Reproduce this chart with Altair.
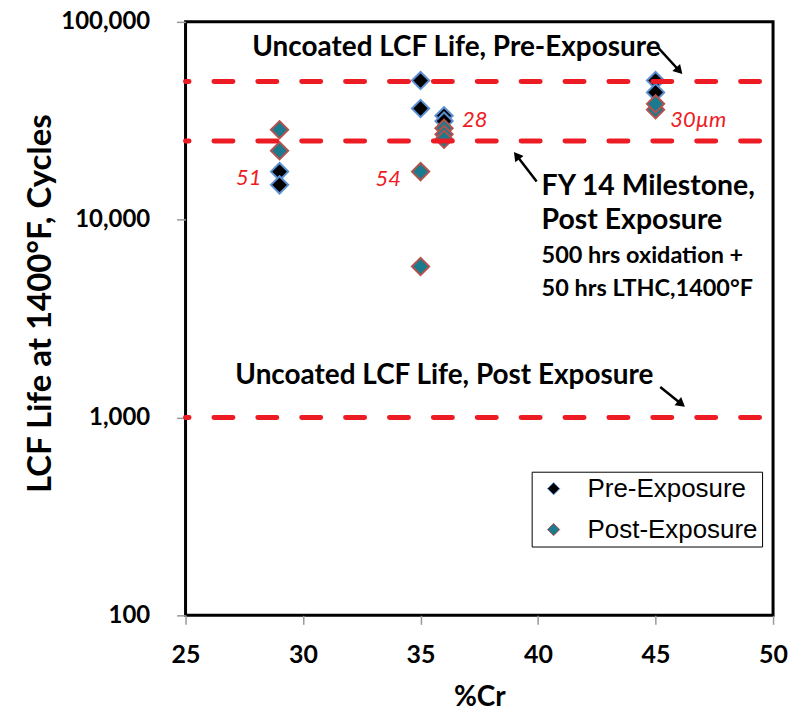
import altair as alt
import pandas as pd

# ---- data ----
pre_x = [29, 29, 35, 35, 36, 36, 45, 45]
pre_y = [17500, 15000, 50500, 36500, 33500, 31500, 50500, 44000]
post_x = [29, 29, 35, 35, 36, 36, 36, 45, 45]
post_y = [28500, 22300, 17500, 5800, 29000, 27000, 25500, 36000, 38500]

ref_lines = [50000, 25000, 1000]

label_text = ["51", "54", "28", "30\u00b5m"]
label_x = [28.23, 34.17, 36.76, 45.63]
label_y = [16250, 16060, 32040, 31860]
label_align = ["right", "right", "left", "left"]

note_text = ["Uncoated LCF Life, Pre-Exposure", "Uncoated LCF Life, Post Exposure",
             "FY 14 Milestone,", "Post Exposure",
             "500 hrs oxidation +", "50 hrs LTHC,1400\u00b0F"]
note_x = [27.84, 27.12, 40.15, 40.15, 40.15, 40.15]
note_y = [73900, 1621, 14720, 9920, 6530, 4455]
note_size = [28, 28, 28.5, 28.5, 23.5, 23.5]

arrow_x = [45.08, 45.20, 39.94]
arrow_y = [74800, 1427, 15600]
arrow_x2 = [46.01, 46.10, 39.09]
arrow_y2 = [56600, 1171, 21100]
arrow_angle = [137.5, 129, 322.4]

series_names = ["Pre-Exposure", "Post-Exposure"]
fill_colors = ["#000000", "#1b7a8e"]
stroke_colors = ["#5b8fd3", "#b4524d"]

RED = "#ed1c24"
FONT = "Lato"

pts = pd.DataFrame({
    "cr": pre_x + post_x,
    "life": pre_y + post_y,
    "series": ["Pre-Exposure"] * len(pre_x) + ["Post-Exposure"] * len(post_x),
    "idx": list(range(len(pre_x) + len(post_x))),
})
lines_df = pd.DataFrame({"life": ref_lines})
labels_df = pd.DataFrame({"t": label_text, "x": label_x, "y": label_y, "a": label_align})
notes_df = pd.DataFrame({"t": note_text, "x": note_x, "y": note_y, "fs": note_size})
arrows_df = pd.DataFrame({"x": arrow_x, "y": arrow_y, "x2": arrow_x2, "y2": arrow_y2, "ang": arrow_angle})

xscale = alt.Scale(domain=[25, 50], nice=False, zero=False)
yscale = alt.Scale(type="log", domain=[100, 100000], nice=False)

xaxis = alt.Axis(values=[25, 30, 35, 40, 45, 50], title="%Cr", grid=False, domain=False,
                 tickColor="#999999", tickSize=9, tickWidth=1.5,
                 labelFont=FONT, labelFontSize=25, labelFontWeight="bold", labelColor="#000",
                 labelPadding=18, labelFlush=False,
                 titleFont=FONT, titleFontSize=28, titleFontWeight="bold", titleColor="#000",
                 titleY=82, titleBaseline="middle")
yaxis = alt.Axis(values=[100, 1000, 10000, 100000], format=",", title="LCF Life at 1400\u00b0F, Cycles",
                 grid=False, domain=False,
                 tickColor="#999999", tickSize=9, tickWidth=1.5,
                 labelFont=FONT, labelFontSize=24, labelFontWeight="bold", labelColor="#000",
                 labelPadding=27, labelFlush=False,
                 titleFont=FONT, titleFontSize=33, titleFontWeight="bold", titleColor="#000",
                 titleX=-145, titleY=282, titleBaseline="middle")

points = alt.Chart(pts).mark_point(shape="diamond", filled=True, size=300, strokeWidth=2, opacity=1).encode(
    x=alt.X("cr:Q", scale=xscale, axis=xaxis),
    y=alt.Y("life:Q", scale=yscale, axis=yaxis),
    fill=alt.Fill("series:N", scale=alt.Scale(domain=series_names, range=fill_colors),
                  legend=alt.Legend(title=None, orient="none", legendX=347, legendY=451,
                                    strokeColor="#000", fillColor="#fff", padding=4,
                                    symbolOffset=5, symbolSize=150, symbolStrokeWidth=1,
                                    labelFont="Liberation Sans",
                                    labelFontSize=26, labelOffset=21, rowPadding=15,
                                    labelColor="#000", labelLimit=300)),
    stroke=alt.Stroke("series:N", scale=alt.Scale(domain=series_names, range=stroke_colors),
                      legend=None),
    order=alt.Order("idx:Q"),
)

rules = alt.Chart(lines_df).mark_rule(color=RED, strokeWidth=5, strokeCap="round",
                                      strokeDash=[19, 25], strokeDashOffset=15.5).encode(
    x=alt.datum(25, scale=xscale),
    x2=alt.datum(50),
    y=alt.Y("life:Q", scale=yscale),
)

red_left = alt.Chart(labels_df).transform_filter("datum.a == 'left'").mark_text(
    font=FONT, fontSize=22, fontStyle="italic", color=RED, baseline="middle", align="left").encode(
    x=alt.X("x:Q", scale=xscale), y=alt.Y("y:Q", scale=yscale), text="t:N")
red_right = alt.Chart(labels_df).transform_filter("datum.a == 'right'").mark_text(
    font=FONT, fontSize=22, fontStyle="italic", color=RED, baseline="middle", align="right").encode(
    x=alt.X("x:Q", scale=xscale), y=alt.Y("y:Q", scale=yscale), text="t:N")

notes = alt.Chart(notes_df).mark_text(font=FONT, fontWeight="bold", color="#000",
                                      align="left", baseline="middle").encode(
    x=alt.X("x:Q", scale=xscale), y=alt.Y("y:Q", scale=yscale), text="t:N",
    size=alt.Size("fs:Q", scale=None),
)

arrow_lines = alt.Chart(arrows_df).mark_rule(color="#000", strokeWidth=2.5).encode(
    x=alt.X("x:Q", scale=xscale), y=alt.Y("y:Q", scale=yscale), x2="x2:Q", y2="y2:Q",
)
arrow_heads = alt.Chart(arrows_df).mark_point(shape="triangle-up", filled=True, size=110,
                                              color="#000", opacity=1).encode(
    x=alt.X("x2:Q", scale=xscale), y=alt.Y("y2:Q", scale=yscale), angle=alt.Angle("ang:Q", scale=None),
)

chart = alt.layer(points, rules, red_left, red_right, notes, arrow_lines, arrow_heads).properties(
    width=589, height=595,
    autosize=alt.AutoSizeParams(type="none"),
    padding={"left": 178, "top": 13, "right": 20, "bottom": 95},
).configure_view(stroke="#000", strokeWidth=3)

chart.save("out.html", embed_options={"renderer": "svg", "actions": False})
